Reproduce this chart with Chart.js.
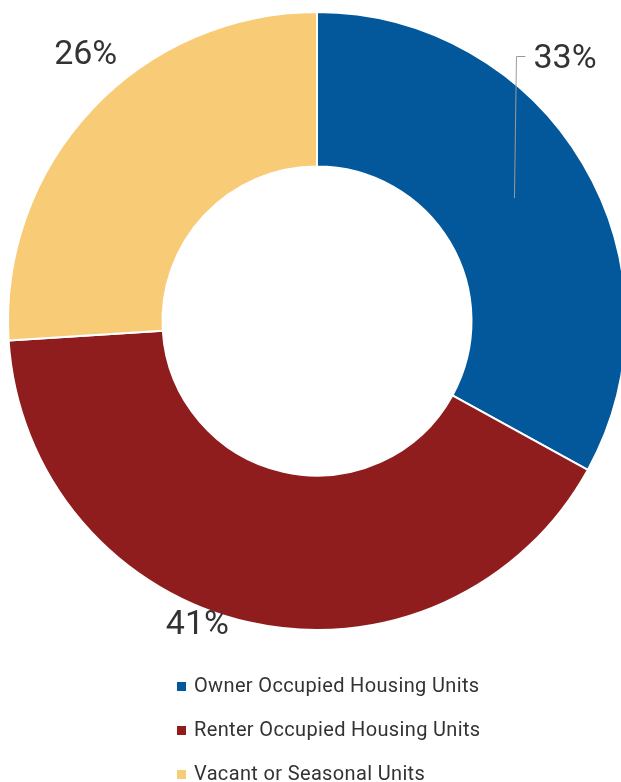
<!DOCTYPE html>
<html>
<head>
<meta charset="utf-8">
<title>Housing Units</title>
<script src="https://cdn.jsdelivr.net/npm/chart.js@4/dist/chart.umd.min.js"></script>
<style>
  html, body { margin: 0; padding: 0; background: #fff; overflow: hidden; }
  #wrap { position: relative; width: 634px; height: 782px; }
</style>
</head>
<body>
<div id="wrap"><canvas id="housingChart"></canvas></div>
<script>
(() => {
  'use strict'

  // housing units by occupancy, share in percent
  const categories = [
    'Owner Occupied Housing Units',
    'Renter Occupied Housing Units',
    'Vacant or Seasonal Units'
  ]
  const shares = [33, 41, 26]
  const colors = ['#02589b', '#8f1d1e', '#f8cb76']

  // where each percent label sits: angle shift (deg) from slice middle, distance past the rim
  const labelPlacement = [
    { shift: -20, out: 32, align: 'left', leader: true },
    { shift: 9, out: 16, align: 'center', leader: false },
    { shift: 6, out: 45, align: 'center', leader: false }
  ]

  // percent labels outside the ring, with a leader line for the first slice
  const percentLabels = {
    id: 'percentLabels',
    afterDatasetsDraw(chart) {
      const { ctx } = chart
      const arcs = chart.getDatasetMeta(0).data
      ctx.save()
      ctx.font = '34px Roboto'
      ctx.fillStyle = '#333333'
      ctx.textBaseline = 'middle'
      arcs.forEach((arc, i) => {
        const p = labelPlacement[i]
        const mid = (arc.startAngle + arc.endAngle) / 2 + p.shift * Math.PI / 180
        const r = arc.outerRadius + p.out
        const x = arc.x + Math.cos(mid) * r
        const y = arc.y + Math.sin(mid) * r
        const text = shares[i] + '%'
        if (p.leader) {
          const c = arc.getCenterPoint()
          ctx.strokeStyle = '#9a9a9a'
          ctx.lineWidth = 1
          ctx.beginPath()
          ctx.moveTo(c.x - 2, c.y - 5)
          ctx.lineTo(c.x, y - 1)
          ctx.lineTo(x - 8, y - 1)
          ctx.stroke()
        }
        ctx.textAlign = p.align
        ctx.fillText(text, x, y + 2)
      })
      ctx.restore()
    }
  }

  // stacked legend, left aligned, under the ring
  const stackedLegend = {
    id: 'stackedLegend',
    afterDraw(chart) {
      const { ctx } = chart
      const ds = chart.data.datasets[0]
      ctx.save()
      ctx.font = '20px Roboto'
      ctx.letterSpacing = '0.35px'
      ctx.textBaseline = 'middle'
      ctx.textAlign = 'left'
      chart.data.labels.forEach((label, i) => {
        const y = 687 + i * 44
        ctx.fillStyle = ds.backgroundColor[i]
        ctx.fillRect(177, y - 5, 9, 9)
        ctx.fillStyle = '#333333'
        ctx.fillText(label, 194, y)
      })
      ctx.restore()
    }
  }

  const ctx = document.getElementById('housingChart')
  new Chart(ctx, {
    type: 'doughnut',
    data: {
      labels: categories,
      datasets: [{
        data: shares,
        backgroundColor: colors,
        borderColor: '#ffffff',
        borderWidth: 2,
        hoverOffset: 0
      }]
    },
    options: {
      responsive: true,
      maintainAspectRatio: false,
      animation: false,
      cutout: '50%',
      layout: {
        padding: { top: 11, bottom: 151, left: 0, right: 0 }
      },
      plugins: {
        legend: { display: false },
        tooltip: { enabled: false }
      }
    },
    plugins: [percentLabels, stackedLegend]
  })
})()
</script>
</body>
</html>
